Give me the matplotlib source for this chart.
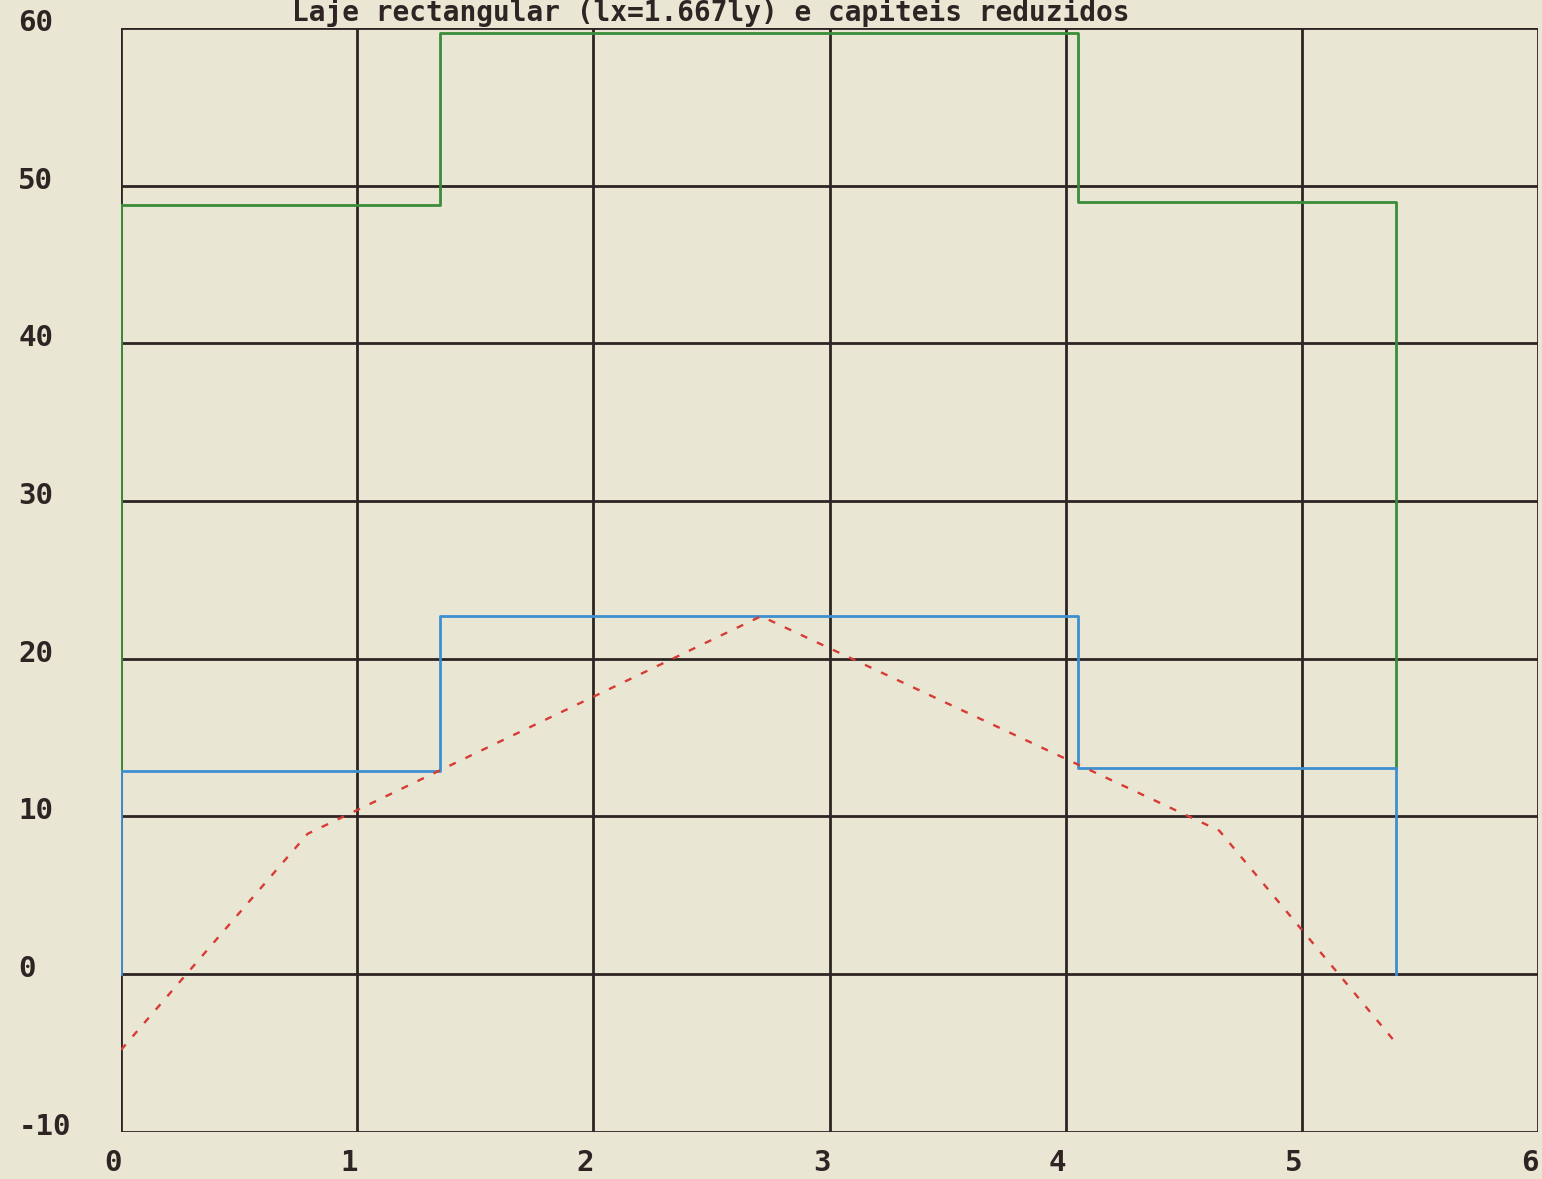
import matplotlib
matplotlib.use("Agg")
import matplotlib.pyplot as plt
import matplotlib.transforms as mtransforms
import numpy as np

# step outlines (x breakpoints, levels)
x_steps = [0.0, 1.35, 4.05, 5.4]
green_levels = [48.8, 59.7, 49.0]
blue_levels = [12.9, 22.7, 13.1]
blue_base = 0.0

# red dashed polyline
red_x = [0.0, 0.79, 2.71, 4.65, 5.4]
red_y = [-4.8, 8.9, 22.7, 9.1, -4.4]

xticks = [0, 1, 2, 3, 4, 5, 6]
yticks = [-10, 0, 10, 20, 30, 40, 50, 60]
title = "Laje rectangular (lx=1.667ly) e capiteis reduzidos"

bg = '#e9e7d3'
ink = '#2e2424'

fig = plt.figure(figsize=(15.42, 11.79), dpi=100, facecolor=bg)
ax = fig.add_axes([0.0785, 0.040, 0.919, 0.9362], facecolor=bg)

def step_outline(xs, levels, base):
    px = [xs[0]]
    py = [base]
    for i, lv in enumerate(levels):
        px += [xs[i], xs[i + 1]]
        py += [lv, lv]
    px.append(xs[-1])
    py.append(base)
    return px, py

gx, gy = step_outline(x_steps, green_levels, blue_levels[0])
gy[-1] = blue_levels[-1]
bx, by = step_outline(x_steps, blue_levels, blue_base)

for x in xticks:
    ax.axvline(x, color=ink, lw=2.0, zorder=1)
for y in yticks:
    ax.axhline(y, color=ink, lw=2.0, zorder=1)

ax.plot(gx, gy, color='#3b8c3b', lw=2.0, zorder=3)
ax.plot(bx, by, color='#3d8fd0', lw=2.0, zorder=3)
ax.plot(red_x, red_y, color='#d93a34', lw=1.7, ls=(0, (3, 4.5)), zorder=4)

ax.set_xlim(0, 6)
ax.set_ylim(-10, 60)
for s in ax.spines.values():
    s.set_visible(False)
ax.set_xticks(xticks)
ax.set_yticks(yticks)
fnt = dict(family='DejaVu Sans Mono', weight='bold', size=21)
ax.set_xticklabels([str(v) for v in xticks], color=ink, **fnt)
ax.set_yticklabels([str(v) for v in yticks], color=ink, ha='left', **fnt)
ax.tick_params(axis='both', length=0)
ax.tick_params(axis='x', pad=12)
ax.tick_params(axis='y', pad=74)
dx = mtransforms.ScaledTranslation(-8 / 100, 0, fig.dpi_scale_trans)
for lab in ax.get_xticklabels():
    lab.set_transform(lab.get_transform() + dx)
dy = mtransforms.ScaledTranslation(0, 5 / 100, fig.dpi_scale_trans)
for lab in ax.get_yticklabels():
    lab.set_verticalalignment('center')
    lab.set_transform(lab.get_transform() + dy)

fig.text(0.461, 0.9825, title, ha='center', va='baseline', color=ink,
         family='DejaVu Sans Mono', weight='bold', size=20)

fig.savefig('out.png', dpi=100, facecolor=bg)
